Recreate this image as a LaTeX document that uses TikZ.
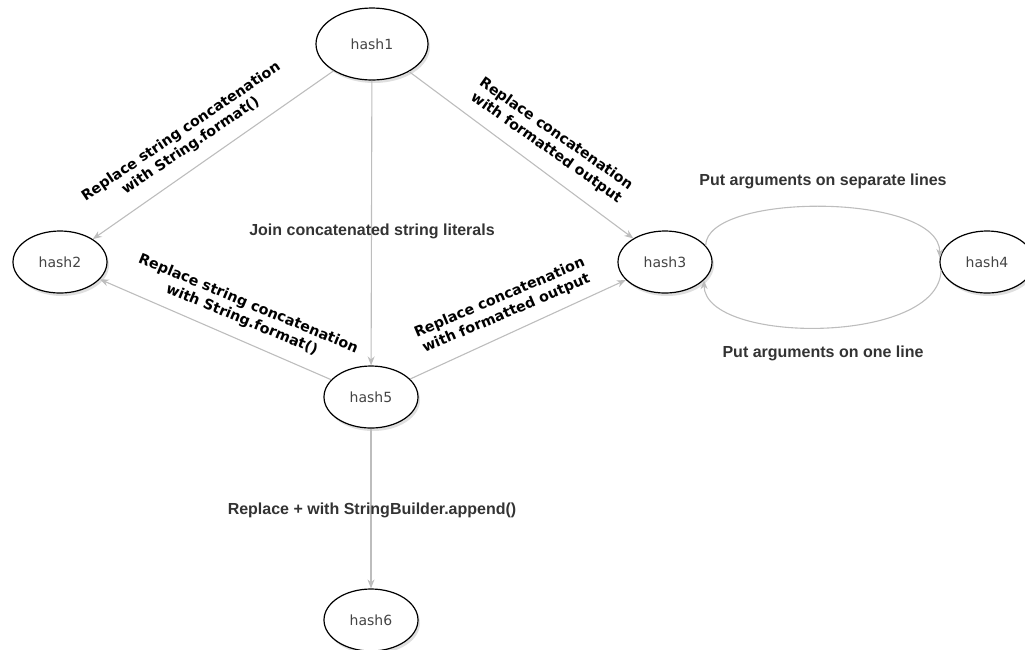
\documentclass[tikz,border=0pt]{standalone}
\usepackage{fontspec}
\setmainfont{DejaVu Sans}
\newfontfamily\lblfont{Liberation Sans}
\newfontfamily\rotfont{DejaVu Sans}
\usetikzlibrary{arrows.meta,shadows,shapes.geometric}
\definecolor{edgegray}{HTML}{BDBDBD}
\definecolor{txtgray}{HTML}{333333}
\definecolor{nodetxt}{HTML}{444444}
\begin{document}
\begin{tikzpicture}[x=1pt,y=-1pt,
  st/.style={ellipse,draw=black,line width=1.2pt,fill=white,minimum width=94pt,minimum height=62pt,inner sep=0pt,
    font=\fontsize{14}{16}\selectfont,text=nodetxt,
    drop shadow={opacity=0.25,shadow xshift=2pt,shadow yshift=-3pt}},
  bigst/.style={st,minimum width=112pt,minimum height=72pt},
  conn/.style={draw=edgegray,line width=1.1pt,-{Stealth[length=9pt,width=7pt]}},
  hl/.style={font=\lblfont\bfseries\fontsize{16}{18}\selectfont,text=txtgray,inner sep=0pt},
  rl/.style={font=\rotfont\bfseries\fontsize{14.3}{17}\selectfont,align=center,text=black,inner sep=0pt}
]
\clip (0,0) rectangle (1025,649);
\useasboundingbox (0,0) rectangle (1025,649);

\node[bigst] (h1) at (372,44) {hash1};
\node[st] (h2) at (60,262) {hash2};
\node[st] (h3) at (665,262) {hash3};
\node[st] (h4) at (987,262) {hash4};
\node[st] (h5) at (371,397) {hash5};
\node[st] (h6) at (371,620) {hash6};

\draw[conn] (h1) -- (h2);
\draw[conn] (h1) -- (h5);
\draw[conn] (h1) -- (h3);
\draw[conn] (h5) -- (h2);
\draw[conn] (h5) -- (h3);
\draw[conn] (h5) -- (h6);
\draw[conn] (h3.22) .. controls (706,192) and (940,192) .. (h4.175);
\draw[conn] (h4.190) .. controls (940,345) and (705,345) .. (h3.-25);

\node[hl] (l15) at (372,231) {Join concatenated string literals};
\node[hl] (l56) at (372,510) {Replace + with StringBuilder.append()};
\node[hl] (l34) at (823,181) {Put arguments on separate lines};
\node[hl] (l43) at (823,353) {Put arguments on one line};
\node[rl,rotate=34] (l12) at (186,139) {Replace string concatenation\\with String.format()};
\node[rl,rotate=-35] (l13) at (551,141) {Replace concatenation\\with formatted output};
\node[rl,rotate=-22.5] (l52) at (245,312) {Replace string concatenation\\with String.format()};
\node[rl,rotate=23] (l53) at (503,306) {Replace concatenation\\with formatted output};
\end{tikzpicture}
\end{document}
